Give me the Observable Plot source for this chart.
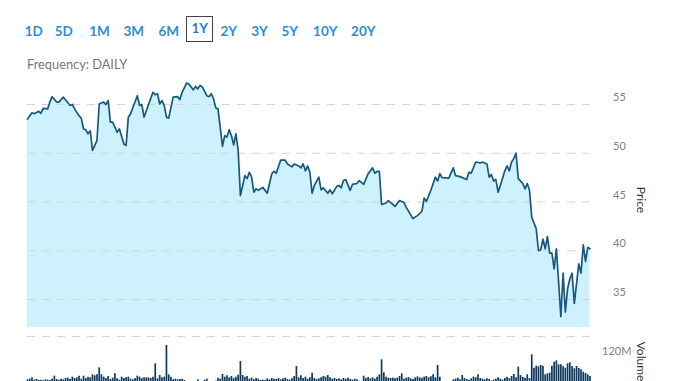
<!DOCTYPE html>
<html><head><meta charset="utf-8">
<script src="https://cdn.jsdelivr.net/npm/d3@7"></script>
<script src="https://cdn.jsdelivr.net/npm/@observablehq/plot@0.6"></script>
<style>
html,body{margin:0;padding:0;background:#fff;overflow:hidden;width:678px;height:381px;}
body{position:relative;font-family:Lato,"Open Sans",sans-serif;}
.btn{position:absolute;font-size:13.5px;line-height:16px;font-weight:700;color:#2b8fd8;transform:translateX(-50%);white-space:nowrap;}
.sel{position:absolute;border:1px solid #444;box-sizing:border-box;}
#freq{position:absolute;left:27px;top:57.2px;font-size:12.8px;line-height:15px;color:#777;}
#price{position:absolute;left:0;top:80px;}
#volume{position:absolute;left:0;top:332px;}
svg{overflow:visible;}
</style></head><body>
<div id="buttons"></div>
<div id="freq">Frequency: DAILY</div>
<div id="price"></div>
<div id="volume"></div>
<script>
// ---- data ----
const ranges = ["1D","5D","1M","3M","6M","1Y","2Y","3Y","5Y","10Y","20Y"];
const selectedRange = "1Y";
const frequency = "DAILY";

// trading-day index within the year and closing price
const days = [
0,2,3,5,6,7,9,10,11,13,
14,16,19,20,21,23,24,25,26,27,
28,29,31,32,34,35,36,37,38,40,
41,43,44,45,46,49,50,51,52,54,
56,57,58,59,60,61,62,63,65,67,
68,69,71,72,74,75,76,77,78,80,
81,82,83,84,85,87,88,89,90,91,
92,93,94,95,97,98,99,100,101,102,
103,105,107,109,110,111,113,115,116,118,
119,121,122,123,124,125,126,127,128,130,
131,132,134,135,136,138,139,140,141,142,
144,145,147,148,150,152,154,155,156,157,
158,160,161,163,164,166,168,169,172,174,
176,177,178,180,182,183,184,185,188,190,
191,193,196,197,198,200,202,203,205,206,
207,208,209,210,211,213,214,215,216,217,
218,219,221,222,223,224,225,227,228,229,
230,231,232,233,234,235,236,237,238,239,
240,241,242,243,244,246,247,248,249,250,
251];
const prices = [
53.5,54.15,54.05,54.3,54.1,54.6,54.55,55.25,55.8,55.25,
55.25,55.75,54.9,55.0,54.55,53.85,53.6,52.5,52.4,52.0,
52.3,50.3,51.3,55.05,55.25,55.0,55.4,53.2,53.2,52.15,
52.5,50.95,50.8,53.7,54.05,55.9,54.9,55.0,53.7,55.0,
56.25,56.0,56.1,55.05,55.4,54.9,53.7,53.6,55.75,55.8,
55.5,56.25,57.2,57.1,56.5,56.85,56.6,56.95,56.8,55.9,
55.8,56.1,55.6,54.65,54.55,50.7,51.8,51.65,52.4,51.8,
50.85,52.0,50.3,45.65,47.7,47.4,48.05,47.55,46.0,46.35,
46.2,46.5,45.9,47.9,48.15,47.95,49.3,49.3,48.9,48.6,
48.9,48.7,48.5,48.9,48.2,48.7,48.05,45.9,46.7,47.55,
46.25,46.45,45.9,46.25,45.85,46.6,46.7,46.45,47.2,47.3,
46.2,46.8,46.9,47.2,46.8,47.9,48.5,47.95,48.15,48.15,
44.75,44.9,45.15,44.75,44.55,45.15,44.95,44.45,43.3,43.6,
44.05,45.4,45.05,46.2,47.55,47.15,47.9,47.5,47.45,48.5,
47.7,47.6,47.3,48.05,47.95,49.1,49.0,49.1,48.9,47.55,
47.8,47.15,47.3,46.0,46.7,48.2,48.7,48.2,49.1,49.45,
50.0,47.4,46.9,46.35,46.9,46.2,43.45,42.25,40.0,40.1,
41.2,40.2,41.45,39.75,39.75,38.15,40.2,36.8,33.25,37.7,
33.7,36.1,37.1,37.7,34.6,38.65,37.7,40.6,38.9,40.35,
40.2];

// daily volume (millions), one per trading day 0..251
const volumes = [
56,58,62,55,57,54,55,53,56,55,
54,58,67,57,55,58,56,60,61,57,
64,60,62,67,58,67,60,64,62,71,
68,71,92,71,64,60,66,57,61,74,
59,55,64,60,62,64,58,56,60,67,
64,60,62,62,62,60,64,104,59,69,
62,64,159,71,64,56,58,56,57,58,
54,45,40,42,38,44,56,42,40,55,
58,48,42,46,52,61,58,72,64,68,
62,66,60,64,70,111,69,64,66,58,
61,56,60,58,54,55,54,59,56,60,
58,57,60,56,59,61,57,55,59,66,
96,62,68,60,64,58,62,76,60,57,
59,62,66,64,69,62,58,60,57,59,
56,60,58,61,57,55,58,56,52,45,
67,60,63,59,62,58,64,71,116,77,
64,61,60,61,59,61,66,74,58,61,
63,59,57,62,65,62,60,64,66,62,
65,71,62,99,64,42,40,38,44,42,
56,58,61,56,69,60,57,55,59,64,
62,71,60,58,56,59,57,52,55,58,
62,58,55,60,64,59,66,72,62,94,
69,63,61,71,60,131,91,97,95,99,
97,71,74,76,97,109,113,101,101,95,
91,104,107,96,89,96,90,86,79,75,
71,66];

const priceTicks = [35,40,45,50,55];
const priceDomain = [32.13, 57.46];
const volumeTicks = [120];
const volumeMax = 186;

// ---- layout (not data) ----
const buttonCenters = [33.8,63.7,99.5,133.8,168.7,199.7,228.7,259.5,289.7,325.3,363.3];
const btnBox = document.getElementById("buttons");
ranges.forEach((r,i)=>{
  const el = document.createElement("div");
  el.className = "btn";
  el.textContent = r;
  el.style.left = buttonCenters[i] + "px";
  el.style.top = (r === selectedRange ? 19.7 : 23) + "px";
  if (r === selectedRange) el.style.color = "#2a80c8";
  btnBox.appendChild(el);
  if (r === selectedRange) {
    const b = document.createElement("div");
    b.className = "sel";
    b.style.left = "186px"; b.style.top = "16px";
    b.style.width = "27px"; b.style.height = "26px";
    btnBox.appendChild(b);
  }
});
document.getElementById("freq").textContent = "Frequency: " + frequency;

const pdata = days.map((d,i)=>({day:d, price:prices[i]}));
const vdata = volumes.map((v,i)=>({day:i, volume:v}));
const xDomain = [0, 251];
const common = {width:678, marginLeft:27, marginRight:88.5,
  style:{fontFamily:"Lato, sans-serif", background:"transparent", overflow:"visible"}};

const pricePlot = Plot.plot({
  ...common, height:252, marginTop:0, marginBottom:5,
  x:{domain:xDomain, axis:null},
  y:{domain:priceDomain, axis:null},
  marks:[
    Plot.areaY(pdata, {x:"day", y1:priceDomain[0], y2:"price", fill:"#cef1fe"}),
    Plot.ruleY(priceTicks, {stroke:"#d4d4d4", strokeDasharray:"8,7"}),
    Plot.line(pdata, {x:"day", y:"price", stroke:"#155a7e", strokeWidth:1.7}),
    Plot.text(priceTicks, {y:d=>d, text:d=>String(d), frameAnchor:"right", dx:23, dy:-7, textAnchor:"start", fill:"#808080", fontSize:11}),
    Plot.text(["Price"], {frameAnchor:"right", dx:50.5, dy:-4, rotate:90, textAnchor:"middle", fill:"#333", fontSize:12})
  ]
});
document.getElementById("price").appendChild(pricePlot);

const volumePlot = Plot.plot({
  ...common, height:70, marginTop:4, marginBottom:4,
  x:{domain:xDomain, axis:null},
  y:{domain:[0, volumeMax], axis:null},
  marks:[
    Plot.ruleY([volumeMax], {stroke:"#d4d4d4", strokeDasharray:"8,7"}),
    Plot.ruleX(vdata, {x:"day", y1:0, y2:"volume", stroke:"#0c3a5f", strokeWidth:1.7}),
    Plot.text(volumeTicks, {y:d=>d, text:d=>d+"M", frameAnchor:"right", dx:12, dy:-7, textAnchor:"start", fill:"#808080", fontSize:11}),
    Plot.text(["Volume"], {frameAnchor:"right", dx:50.5, dy:-6, rotate:90, textAnchor:"middle", fill:"#333", fontSize:12})
  ]
});
document.getElementById("volume").appendChild(volumePlot);
</script>
</body></html>
